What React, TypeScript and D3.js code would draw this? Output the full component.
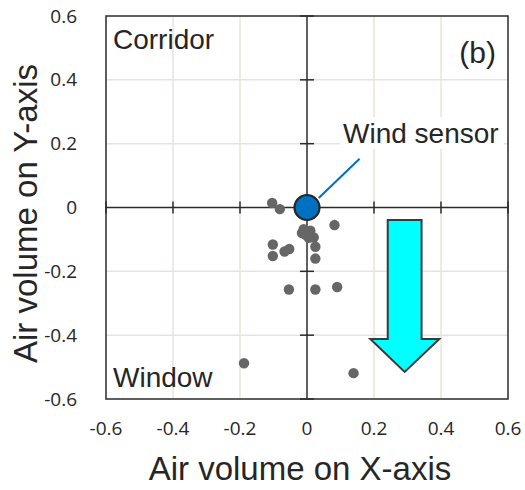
import React from "react";
import * as d3 from "d3";

const xTicks = [-0.6, -0.4, -0.2, 0, 0.2, 0.4, 0.6];
const yTicks = [-0.6, -0.4, -0.2, 0, 0.2, 0.4, 0.6];
const tickLabels = ["-0.6", "-0.4", "-0.2", "0", "0.2", "0.4", "0.6"];

const pointX = [-0.104, -0.081, 0.082, -0.015, 0.01, -0.005, 0.02, 0.025, 0.025, -0.102, -0.102, -0.067, -0.053, -0.054, 0.025, 0.09, -0.188, 0.139, -0.01, 0.005];
const pointY = [0.014, -0.005, -0.055, -0.08, -0.073, -0.085, -0.094, -0.123, -0.16, -0.116, -0.152, -0.138, -0.13, -0.257, -0.257, -0.249, -0.488, -0.519, -0.068, -0.095];

const sensor = { x: 0, y: 0, label: "Wind sensor" };
const arrowShaft = [0.241, 0.342];
const arrowHead = [0.189, 0.395];
const arrowTopY = -0.039;
const arrowHeadY = -0.412;
const arrowTipY = -0.515;

const W = 525, H = 490;
const L = 106, R = 508, T = 16, B = 399;

export default function App() {
  const x = d3.scaleLinear().domain([-0.6, 0.6]).range([L, R]);
  const y = d3.scaleLinear().domain([-0.6, 0.6]).range([B, T]);
  const text = "#262626";
  const sans = "'Liberation Sans', Arial, sans-serif";
  const tickFont = "'Open Sans', sans-serif";
  const cx = (arrowShaft[0] + arrowShaft[1]) / 2;
  const arrowPts: [number, number][] = [
    [arrowShaft[0], arrowTopY],
    [arrowShaft[1], arrowTopY],
    [arrowShaft[1], arrowHeadY],
    [arrowHead[1], arrowHeadY],
    [cx, arrowTipY],
    [arrowHead[0], arrowHeadY],
    [arrowShaft[0], arrowHeadY],
  ];
  const arrowPath = d3.line()(arrowPts.map(([a, b]) => [x(a), y(b)] as [number, number])) + "Z";
  return (
    <div style={{ position: "absolute", left: 0, top: 0 }}>
      <svg width={W} height={H} style={{ display: "block", background: "#fff" }}>
        {/* grid */}
        {xTicks.filter((t) => t !== 0 && Math.abs(t) !== 0.6).map((t) => (
          <line key={"gx" + t} x1={x(t)} x2={x(t)} y1={T} y2={B} stroke="#e8e4dc" strokeWidth={1.5} />
        ))}
        {yTicks.filter((t) => t !== 0 && Math.abs(t) !== 0.6).map((t) => (
          <line key={"gy" + t} y1={y(t)} y2={y(t)} x1={L} x2={R} stroke="#e8e4dc" strokeWidth={1.5} />
        ))}
        {/* zero axes */}
        <line x1={L} x2={R} y1={y(0)} y2={y(0)} stroke="#2b2b2b" strokeWidth={1.5} />
        <line x1={x(0)} x2={x(0)} y1={T} y2={B} stroke="#2b2b2b" strokeWidth={1.5} />
        {xTicks.filter((t) => t !== 0).map((t) => (
          <line key={"tx" + t} x1={x(t)} x2={x(t)} y1={y(0) - 6} y2={y(0) + 6} stroke="#2b2b2b" strokeWidth={1.5} />
        ))}
        {yTicks.filter((t) => t !== 0).map((t) => (
          <line key={"ty" + t} y1={y(t)} y2={y(t)} x1={x(0) - 7} x2={x(0) + 7} stroke="#2b2b2b" strokeWidth={1.5} />
        ))}
        {/* frame */}
        <rect x={L} y={T} width={R - L} height={B - T} fill="none" stroke="#2b2b2b" strokeWidth={1.5} />
        {/* tick labels */}
        {xTicks.map((t, i) => (
          <text key={"lx" + t} x={x(t)} y={435} textAnchor="middle" fontFamily={tickFont} fontSize={19} fill={text}>
            {tickLabels[i]}
          </text>
        ))}
        {yTicks.map((t, i) => (
          <text key={"ly" + t} x={77} y={y(t)} dy="0.35em" textAnchor="end" fontFamily={tickFont} fontSize={19} fill={text}>
            {tickLabels[i]}
          </text>
        ))}
        {/* annotations */}
        <text x={113} y={49} fontFamily={sans} fontSize={28} fill={text}>Corridor</text>
        <text x={113} y={387} fontFamily={sans} fontSize={28} fill={text}>Window</text>
        <text x={496} y={63} textAnchor="end" fontFamily={sans} fontSize={30} fill={text}>(b)</text>
        <rect x={340} y={117} width={164} height={32} fill="#fff" />
        <text x={343} y={143} fontFamily={sans} fontSize={28} fill={text}>{sensor.label}</text>
        <line x1={x(0.035)} y1={y(0.03)} x2={x(0.157)} y2={y(0.153)} stroke="#0070c0" strokeWidth={2} />
        {/* points */}
        {pointX.map((v, i) => (
          <circle key={"p" + i} cx={x(v)} cy={y(pointY[i])} r={5.2} fill="#666666" />
        ))}
        <circle cx={x(sensor.x)} cy={y(sensor.y)} r={12.5} fill="#0070c0" stroke="#262626" strokeWidth={2.2} />
        {/* arrow */}
        <path d={arrowPath} fill="#00ffff" stroke="#3a3a3a" strokeWidth={2} strokeLinejoin="miter" />
        {/* axis titles */}
        <text x={300} y={480} textAnchor="middle" fontFamily={sans} fontSize={33} fill={text}>Air volume on X-axis</text>
        <text transform={`translate(37, ${(T + B) / 2 + 6}) rotate(-90)`} textAnchor="middle" fontFamily={sans} fontSize={33} fill={text}>Air volume on Y-axis</text>
      </svg>
    </div>
  );
}
